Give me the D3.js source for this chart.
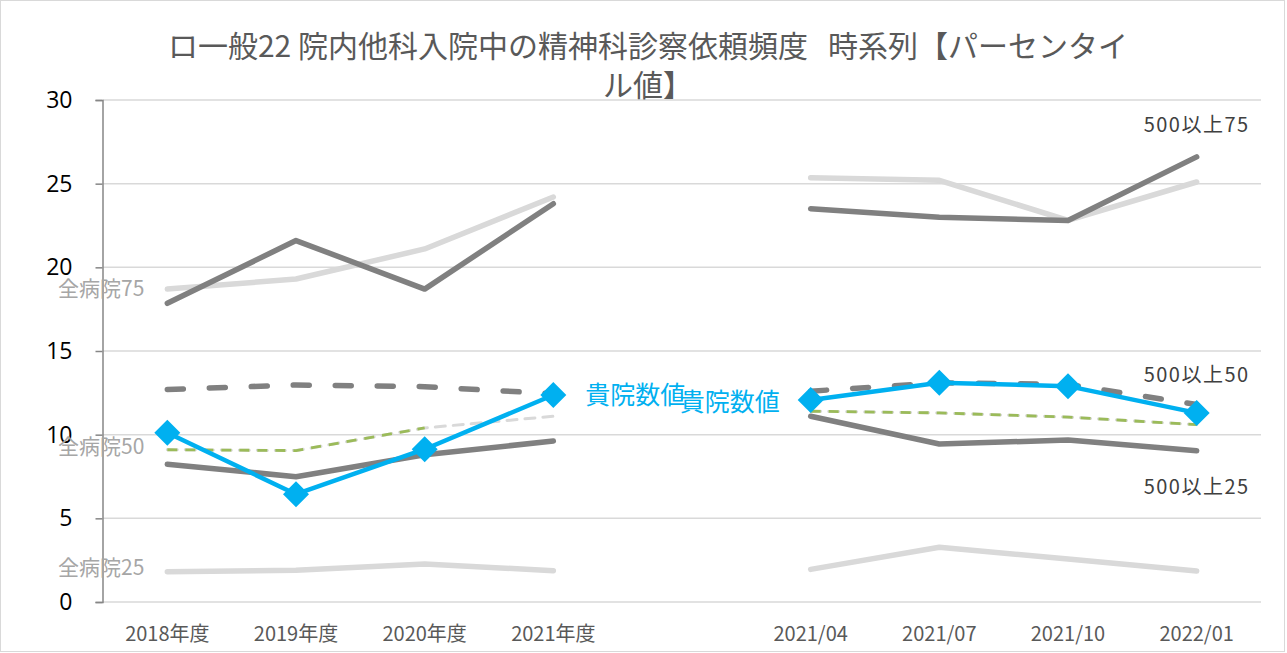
<!DOCTYPE html>
<html><head><meta charset="utf-8">
<script src="https://cdn.jsdelivr.net/npm/d3@7"></script>
<style>
html,body{margin:0;padding:0;background:#fff;}
svg{display:block;font-family:"Noto Sans CJK JP","Noto Sans",sans-serif;}
</style></head>
<body><svg id="chart" width="1287" height="653"></svg>
<script>
const categories = ["2018年度","2019年度","2020年度","2021年度","","2021/04","2021/07","2021/10","2022/01"];
const yTicks = [0,5,10,15,20,25,30];
const titleLines = ["ロ一般22 院内他科入院中の精神科診察依頼頻度\u00a0\u00a0\u00a0時系列【パーセンタイ","ル値】"];

const all75  = [18.7, 19.3, 21.1, 24.2, null, 25.35, 25.2, 22.8, 25.1];
const all50  = [9.1, 9.05, 10.4, 11.1, null, 11.4, 11.3, 11.05, 10.6];
const all25  = [1.81, 1.9, 2.27, 1.87, null, 1.95, 3.27, 2.57, 1.85];
const big75  = [17.85, 21.6, 18.7, 23.8, null, 23.5, 23.0, 22.8, 26.6];
const big50  = [12.7, 12.97, 12.87, 12.45, null, 12.6, 13.1, 13.0, 11.8];
const big25  = [8.23, 7.49, 8.8, 9.62, null, 11.1, 9.44, 9.68, 9.04];
const green  = [9.1, 9.05, 10.4, null, null, 11.4, 11.3, 11.05, 10.6];
const own    = [10.12, 6.44, 9.13, 12.37, null, 12.07, 13.1, 12.9, 11.3];

const svg = d3.select("#chart");
svg.append("rect").attr("x",0.5).attr("y",0.5).attr("width",1284).attr("height",651)
  .attr("fill","#fff").attr("stroke","#d9d9d9");

const x = d3.scaleBand().domain(categories.map((c,i)=>i)).range([103,1261]).padding(0);
const cx = i => x(i) + x.bandwidth()/2;
const y = d3.scaleLinear().domain([0,30]).range([602,100]);

// gridlines
svg.append("g").selectAll("line").data(yTicks).join("line")
  .attr("x1",103).attr("x2",1261).attr("y1",d=>y(d)).attr("y2",d=>y(d))
  .attr("stroke","#d9d9d9").attr("stroke-width",1.5);

// y axis
const yAxis = svg.append("g").attr("transform","translate(102.5,0)")
  .call(d3.axisLeft(y).tickValues(yTicks).tickSize(7).tickPadding(23));
yAxis.select(".domain").attr("stroke","#868686").attr("stroke-width",1.5);
yAxis.selectAll(".tick line").attr("stroke","#868686").attr("stroke-width",1.5);
yAxis.selectAll(".tick text").attr("font-size",23).attr("fill","#000")
  .attr("font-family","'Open Sans','Noto Sans',sans-serif");

// x labels
svg.append("g").selectAll("text").data(categories).join("text")
  .attr("x",(d,i)=>cx(i)).attr("y",641).attr("text-anchor","middle")
  .attr("font-size",20).attr("fill","#595959").text(d=>d);

// title
svg.append("g").selectAll("text").data(titleLines).join("text")
  .attr("x",648).attr("y",(d,i)=>57+i*39).attr("text-anchor","middle")
  .attr("font-size",30).attr("fill","#595959").text(d=>d);

const line = d3.line().defined(d=>d!=null).x((d,i)=>cx(i)).y(d=>y(d));
function draw(data, color, width, dash){
  const p = svg.append("path").datum(data).attr("d",line).attr("fill","none")
    .attr("stroke",color).attr("stroke-width",width)
    .attr("stroke-linecap","round").attr("stroke-linejoin","round");
  if(dash) p.attr("stroke-dasharray",dash);
  return p;
}
draw(all75,"#d9d9d9",5.5);
draw(all25,"#d9d9d9",5.5);
draw(all50,"#d9d9d9",3,"10,8");
draw(big75,"#808080",5.5);
draw(big25,"#808080",5.5);
draw(big50,"#808080",5.5,"16,26");
draw(green,"#9bbb59",2.8,"10,8").attr("stroke-linecap","butt");
draw(own,"#00b0f0",4.5);

// diamond markers
svg.append("g").selectAll("path").data(own.map((v,i)=>[v,i]).filter(d=>d[0]!=null)).join("path")
  .attr("d","M0,-13L13,0L0,13L-13,0Z")
  .attr("transform",d=>`translate(${cx(d[1])},${y(d[0])})`).attr("fill","#00b0f0");

// labels
const lab = svg.append("g");
function label(txt, xx, yy, color, size, anchor, ls){
  lab.append("text").attr("x",xx).attr("y",yy).attr("dy","0.35em").attr("text-anchor",anchor)
    .attr("font-size",size).attr("fill",color).attr("letter-spacing",ls||0).text(txt);
}
label("全病院75", cx(0)-23, y(all75[0]), "#a6a6a6", 21, "end");
label("全病院50", cx(0)-23, y(all50[0])-3, "#a6a6a6", 21, "end");
label("全病院25", cx(0)-23, y(all25[0])-4, "#a6a6a6", 21, "end");
label("500以上75", cx(8), y(big75[8])-32, "#404040", 20, "middle", 1.5);
label("500以上50", cx(8), y(big50[8])-30, "#404040", 20, "middle", 1.5);
label("500以上25", cx(8), y(big25[8])+36, "#404040", 20, "middle", 1.5);
label("貴院数値", cx(3)+32, y(own[3]), "#00b0f0", 25, "start");
label("貴院数値", cx(5)-31, y(own[5])+2, "#00b0f0", 25, "end");
</script></body></html>
